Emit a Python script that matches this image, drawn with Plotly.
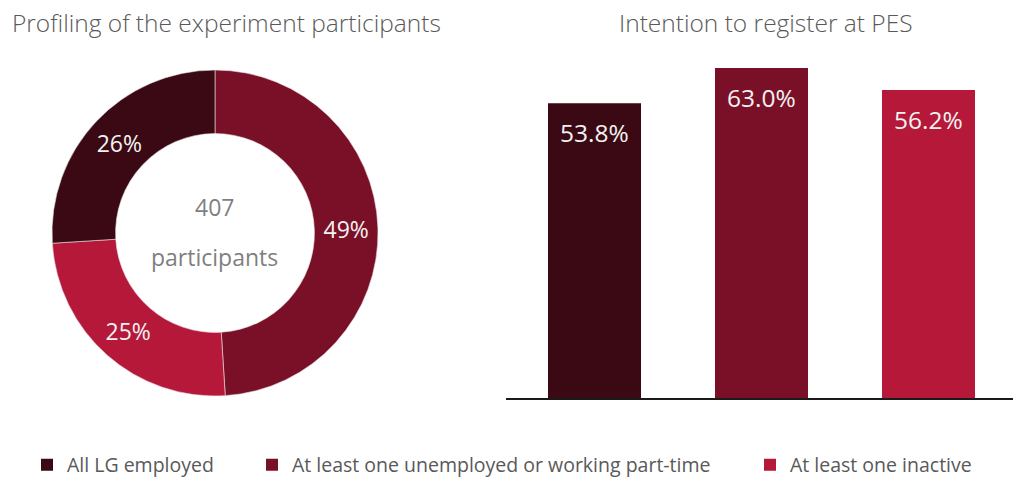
import plotly.graph_objects as go

# Household groups (legend order) and their colours
groups = ["All LG employed", "At least one unemployed or working part-time", "At least one inactive"]
colors = ["#3A0914", "#7A1027", "#B51839"]

# Share of experiment participants per group (%)
profile_share = [26, 49, 25]
participants_total = 407

# Intention to register at PES per group (%)
intention_pct = [53.8, 63.0, 56.2]
y_top = 60.2  # upper limit of the bar value axis

TITLE_GRAY = "#595959"
LABEL_WHITE = "#F2F2F2"
FONT = "Open Sans"
W, H = 1013, 477

fig = go.Figure()

# Donut: drawn clockwise from 12 o'clock, starting with the unemployed group
pie_order = [1, 2, 0]
fig.add_trace(go.Pie(
    labels=[groups[i] for i in pie_order],
    values=[profile_share[i] for i in pie_order],
    marker=dict(colors=[colors[i] for i in pie_order], line=dict(color="#E8E0E2", width=0.6)),
    hole=0.61,
    sort=False,
    direction="clockwise",
    rotation=0,
    texttemplate="%{value}%",
    textposition="inside",
    insidetextorientation="horizontal",
    textfont=dict(family=FONT, size=23, color=LABEL_WHITE),
    hoverinfo="label+percent",
    showlegend=False,
    domain=dict(x=[52 / W, 378 / W], y=[1 - 396 / H, 1 - 70 / H]),
))

# Bars: one trace per group so each gets its own legend entry
legend_ids = ["legend", "legend2", "legend3"]
for i, g in enumerate(groups):
    fig.add_trace(go.Bar(
        x=[g], y=[intention_pct[i]],
        name=g,
        marker=dict(color=colors[i], line=dict(width=0)),
        legend=legend_ids[i],
        width=0.557,
        hoverinfo="x+y",
    ))

# Value labels near the top of each (visible) bar
bar_labels = [
    dict(text=f"{v:.1f}%", x=g, y=min(v, y_top), xref="x", yref="y",
         showarrow=False, xanchor="center", yanchor="top", yshift=-11,
         font=dict(family=FONT, size=24.5, color=LABEL_WHITE))
    for g, v in zip(groups, intention_pct)
]

legend_style = dict(
    orientation="h", yanchor="middle", y=1 - 465 / H, xanchor="left",
    font=dict(family=FONT, size=19.5, color=TITLE_GRAY),
    bgcolor="rgba(0,0,0,0)", borderwidth=0, itemwidth=30,
)
legend_x = [27 / W, 252 / W, 750 / W]

fig.update_layout(
    width=W, height=H,
    margin=dict(l=0, r=0, t=0, b=0, autoexpand=False),
    paper_bgcolor="white", plot_bgcolor="white",
    showlegend=True,
    legend=dict(legend_style, x=legend_x[0]),
    legend2=dict(legend_style, x=legend_x[1]),
    legend3=dict(legend_style, x=legend_x[2]),
    xaxis=dict(
        domain=[511 / W, 1012 / W],
        showticklabels=False, ticks="", showline=False,
        showgrid=False, zeroline=False, fixedrange=True,
    ),
    yaxis=dict(
        domain=[1 - 399 / H, 1 - 68 / H],
        range=[0, y_top],
        visible=False, showgrid=False, zeroline=False, fixedrange=True,
    ),
    bargap=0.443,
    shapes=[
        # baseline under the bars
        dict(type="line", xref="paper", yref="y domain", x0=506 / W, x1=1, y0=0, y1=0,
             line=dict(color="#1a1a1a", width=2)),
    ],
    annotations=[
        dict(text="Profiling of the experiment participants", x=226 / W, y=1 - 22 / H,
             xref="paper", yref="paper", showarrow=False, xanchor="center", yanchor="middle",
             font=dict(family=FONT, size=24.5, color=TITLE_GRAY, weight=300)),
        dict(text="Intention to register at PES", x=766 / W, y=1 - 22 / H,
             xref="paper", yref="paper", showarrow=False, xanchor="center", yanchor="middle",
             font=dict(family=FONT, size=24.5, color=TITLE_GRAY, weight=300)),
        dict(text=str(participants_total), x=214 / W, y=1 - 207 / H,
             xref="paper", yref="paper", showarrow=False, xanchor="center", yanchor="middle",
             font=dict(family=FONT, size=23, color="#7F7F7F")),
        dict(text="participants", x=214 / W, y=1 - 257 / H,
             xref="paper", yref="paper", showarrow=False, xanchor="center", yanchor="middle",
             font=dict(family=FONT, size=23, color="#7F7F7F")),
    ] + bar_labels,
)

fig.write_html("out.html")
